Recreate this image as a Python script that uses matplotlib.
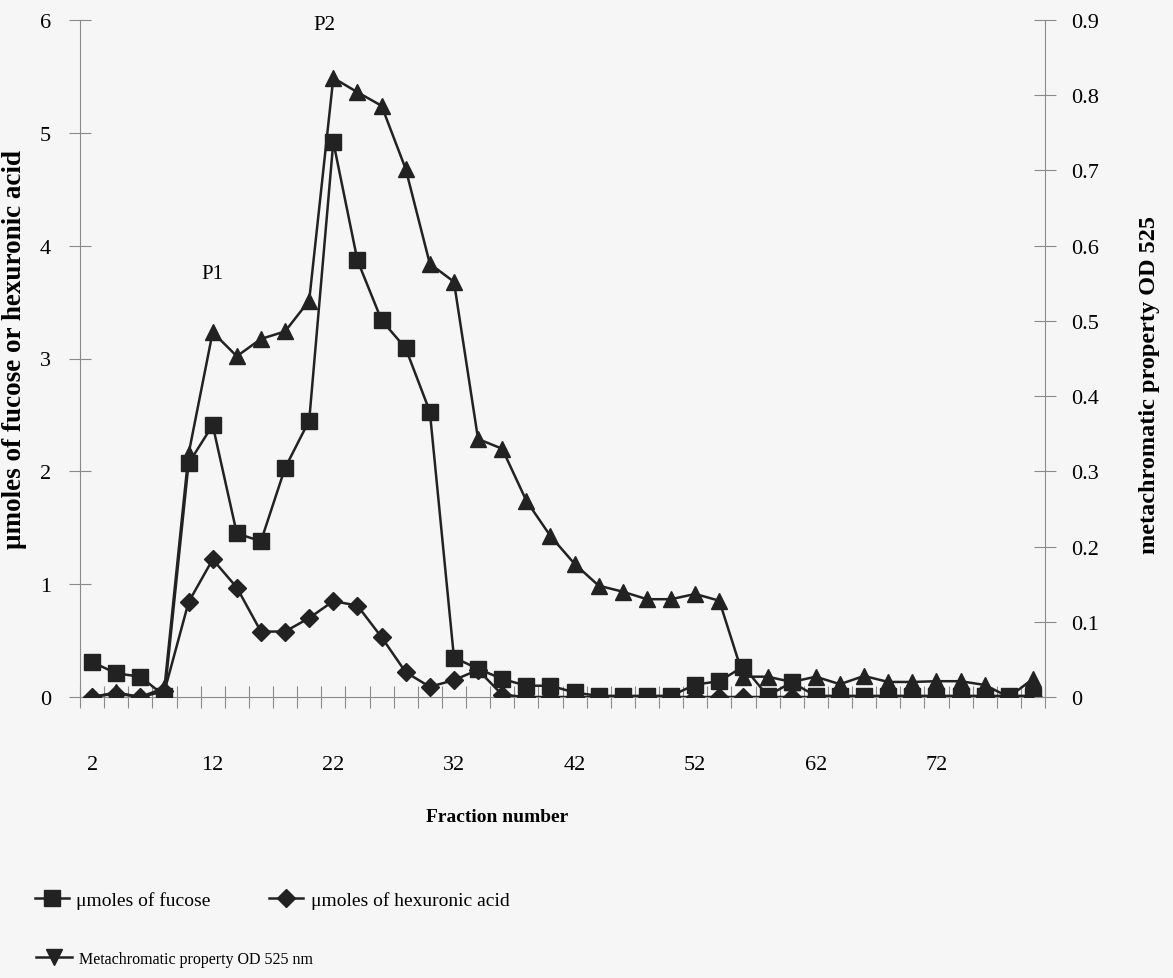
import matplotlib
matplotlib.use('Agg')
import matplotlib.pyplot as plt
from matplotlib.lines import Line2D
from matplotlib.ticker import FixedLocator, FuncFormatter

fractions = list(range(2, 82, 2))
fucose = [0.31, 0.21, 0.18, 0.01, 2.07, 2.41, 1.45, 1.38, 2.03, 2.45,
          4.92, 3.87, 3.34, 3.09, 2.53, 0.35, 0.25, 0.16, 0.10, 0.10,
          0.04, 0.01, 0.01, 0.01, 0.01, 0.11, 0.14, 0.27, 0.01, 0.13,
          0.01, 0.01, 0.01, 0.01, 0.01, 0.01, 0.01, 0.01, 0.01, 0.01]
hexuronic = [0.0, 0.03, 0.0, 0.05, 0.84, 1.22, 0.97, 0.58, 0.58, 0.70,
             0.85, 0.81, 0.53, 0.22, 0.09, 0.15, 0.24, 0.02, 0.0, 0.0,
             0.0, 0.0, 0.0, 0.0, 0.0, 0.0, 0.0, 0.0, 0.0, 0.0,
             0.0, 0.0, 0.0, 0.0, 0.0, 0.0, 0.0, 0.0, 0.0, 0.0]
od525 = [0.0, 0.006, 0.0, 0.012, 0.323, 0.485, 0.453, 0.476, 0.486, 0.527,
         0.823, 0.804, 0.786, 0.702, 0.576, 0.552, 0.343, 0.330, 0.261, 0.214,
         0.177, 0.148, 0.140, 0.130, 0.130, 0.137, 0.128, 0.027, 0.027, 0.020,
         0.027, 0.017, 0.028, 0.020, 0.020, 0.021, 0.021, 0.016, 0.0, 0.024]
x_tick_labels = [2, 12, 22, 32, 42, 52, 62, 72]
left_ticks = [0, 1, 2, 3, 4, 5, 6]
right_ticks = [0, 0.1, 0.2, 0.3, 0.4, 0.5, 0.6, 0.7, 0.8, 0.9]

plt.rcParams['font.family'] = ['Liberation Serif', 'DejaVu Serif']

W, H = 1173, 979
fig = plt.figure(figsize=(W / 100, H / 100), dpi=100)
fig.patch.set_facecolor('#f6f6f6')
ax = fig.add_axes([80 / W, 1 - 698 / H, (1045 - 80) / W, (698 - 21) / H])
ax.set_facecolor('none')
ax2 = ax.twinx()

dark = '#222222'
axis_col = '#8a8a8a'
lw = 1.8

ax.plot(fractions, fucose, color=dark, lw=lw, marker='s', ms=11, zorder=3)
ax.plot(fractions, hexuronic, color=dark, lw=lw, marker='D', ms=9, zorder=3)
ax2.plot(fractions, od525, color=dark, lw=lw, marker='^', ms=11, zorder=3)

ax.set_xlim(1, 81)
ax.set_ylim(0, 6)
ax2.set_ylim(0, 0.9)

for a in (ax, ax2):
    for s in a.spines.values():
        s.set_visible(False)
ax.spines['left'].set_visible(True)
ax.spines['left'].set_color(axis_col)
ax.spines['bottom'].set_visible(True)
ax.spines['bottom'].set_color(axis_col)
ax2.spines['right'].set_visible(True)
ax2.spines['right'].set_color(axis_col)

ax.xaxis.set_major_locator(FixedLocator(x_tick_labels))
ax.xaxis.set_minor_locator(FixedLocator(list(range(1, 82, 2))))
ax.tick_params(axis='x', which='major', length=0, pad=42, labelsize=16)
ax.tick_params(axis='x', which='minor', direction='inout', length=16,
               color=axis_col, width=0.8)

ax.set_yticks(left_ticks)
ax.tick_params(axis='y', direction='inout', length=16, color=axis_col,
               width=0.8, labelsize=16, pad=13)
ax2.set_yticks(right_ticks)
ax2.yaxis.set_major_formatter(FuncFormatter(lambda v, p: '0' if v == 0 else f'{v:.1f}'))
ax2.tick_params(axis='y', direction='inout', length=16, color=axis_col,
                width=0.8, labelsize=16, pad=11)

ax.set_xlabel('Fraction number', fontsize=14, fontweight='bold')
ax.xaxis.set_label_coords((497 - 80) / 965, (698 - 817) / 677)
ax.xaxis.label.set_verticalalignment('center')

ax.set_ylabel('μmoles of fucose or hexuronic acid', fontsize=19.5,
              fontweight='bold')
ax.yaxis.set_label_coords((15 - 80) / 965, (698 - 350) / 677)
ax.yaxis.label.set_verticalalignment('center')

ax2.set_ylabel('metachromatic property OD 525', fontsize=17.5,
               fontweight='bold')
ax2.yaxis.set_label_coords((1150 - 80) / 965, (698 - 385) / 677)
ax2.yaxis.label.set_verticalalignment('center')

ax.text(12, 3.75, 'P1', fontsize=15, ha='center', va='center')
ax.text(21.3, 5.96, 'P2', fontsize=15, ha='center', va='center')

h1 = [Line2D([], [], color=dark, lw=lw, marker='s', ms=11),
      Line2D([], [], color=dark, lw=lw, marker='D', ms=9)]
leg1 = fig.legend(h1, ['μmoles of fucose', 'μmoles of hexuronic acid'],
                  ncol=2, loc='center left', frameon=False, fontsize=14,
                  bbox_to_anchor=(17 / W, 1 - 901 / H), handlelength=1.75,
                  columnspacing=3.0, handletextpad=0.4)
h2 = [Line2D([], [], color=dark, lw=lw, marker='v', ms=11)]
leg2 = fig.legend(h2, ['Metachromatic property OD 525 nm'], loc='center left',
                  frameon=False, fontsize=11.5, bbox_to_anchor=(22 / W, 1 - 960 / H),
                  handlelength=2.2, handletextpad=0.45)

fig.savefig('out.png', dpi=100, facecolor=fig.get_facecolor())
